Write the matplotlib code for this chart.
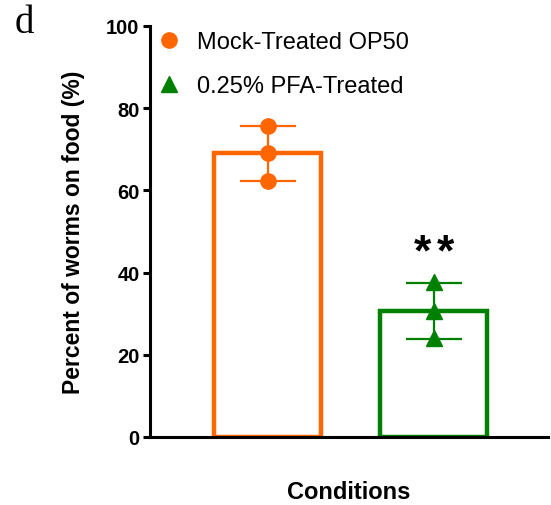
import matplotlib.pyplot as plt
import numpy as np
from matplotlib.lines import Line2D

# percent of worms on food, three replicates per condition
conditions = ["Mock-Treated OP50", "0.25% PFA-Treated"]
mock_values = [75.7, 69.0, 62.3]
pfa_values = [37.6, 30.6, 24.0]
colors = ["#FF6600", "#008000"]
markers = ["o", "^"]
yticks = [0, 20, 40, 60, 80, 100]

plt.rcParams["font.family"] = ["Liberation Sans", "DejaVu Sans"]

groups = [mock_values, pfa_values]
means = [np.mean(g) for g in groups]
sds = [np.std(g, ddof=1) for g in groups]
xpos = np.arange(len(groups))

fig = plt.figure(figsize=(5.51, 5.06), dpi=100)
ax = fig.add_axes([150 / 551, 68 / 506, 398 / 551, 411 / 506])

for i in range(len(groups)):
    ax.bar(xpos[i], means[i], width=0.643, facecolor="white",
           edgecolor=colors[i], linewidth=3.2, zorder=2)
    ax.errorbar(xpos[i], means[i], yerr=sds[i], fmt="none", ecolor=colors[i],
                elinewidth=1.6, capsize=20, capthick=1.6, zorder=3)
    ax.plot([xpos[i]] * len(groups[i]), groups[i], linestyle="none",
            marker=markers[i], markersize=11, color=colors[i], zorder=4)

# significance mark, two spaced asterisks
for dx in (-8, 8):
    ax.annotate("*", xy=(xpos[1], means[1] + sds[1] + 7.2), xytext=(dx, 0),
                textcoords="offset points", ha="center", va="center",
                fontsize=32, fontweight="bold")

ax.set_xlim(-0.706, 1.685)
ax.set_ylim(0, 100)
ax.set_yticks(yticks)
ax.set_xticks([])
ax.tick_params(axis="y", length=5, width=2.2, labelsize=14.5, pad=2.5)
for lab in ax.get_yticklabels():
    lab.set_fontweight("bold")
for side in ["top", "right"]:
    ax.spines[side].set_visible(False)
for side in ["left", "bottom"]:
    ax.spines[side].set_linewidth(2.2)

ax.set_ylabel("Percent of worms on food (%)", fontsize=16.5, fontweight="bold", labelpad=15)
ax.set_xlabel("Conditions", fontsize=17, fontweight="bold", labelpad=31)

handles = [Line2D([], [], linestyle="none", marker=markers[i], markersize=11,
                  color=colors[i], label=conditions[i]) for i in range(2)]
ax.legend(handles=handles, loc="upper left", bbox_to_anchor=(-0.04, 1.04),
          frameon=False, fontsize=17, handletextpad=0.55, labelspacing=0.95,
          handlelength=1.2)

fig.text(15 / 551, 1 - 24 / 506, "d", family=["Liberation Serif"], fontsize=28,
         va="center", ha="left")

fig.savefig("out.png", dpi=100)
